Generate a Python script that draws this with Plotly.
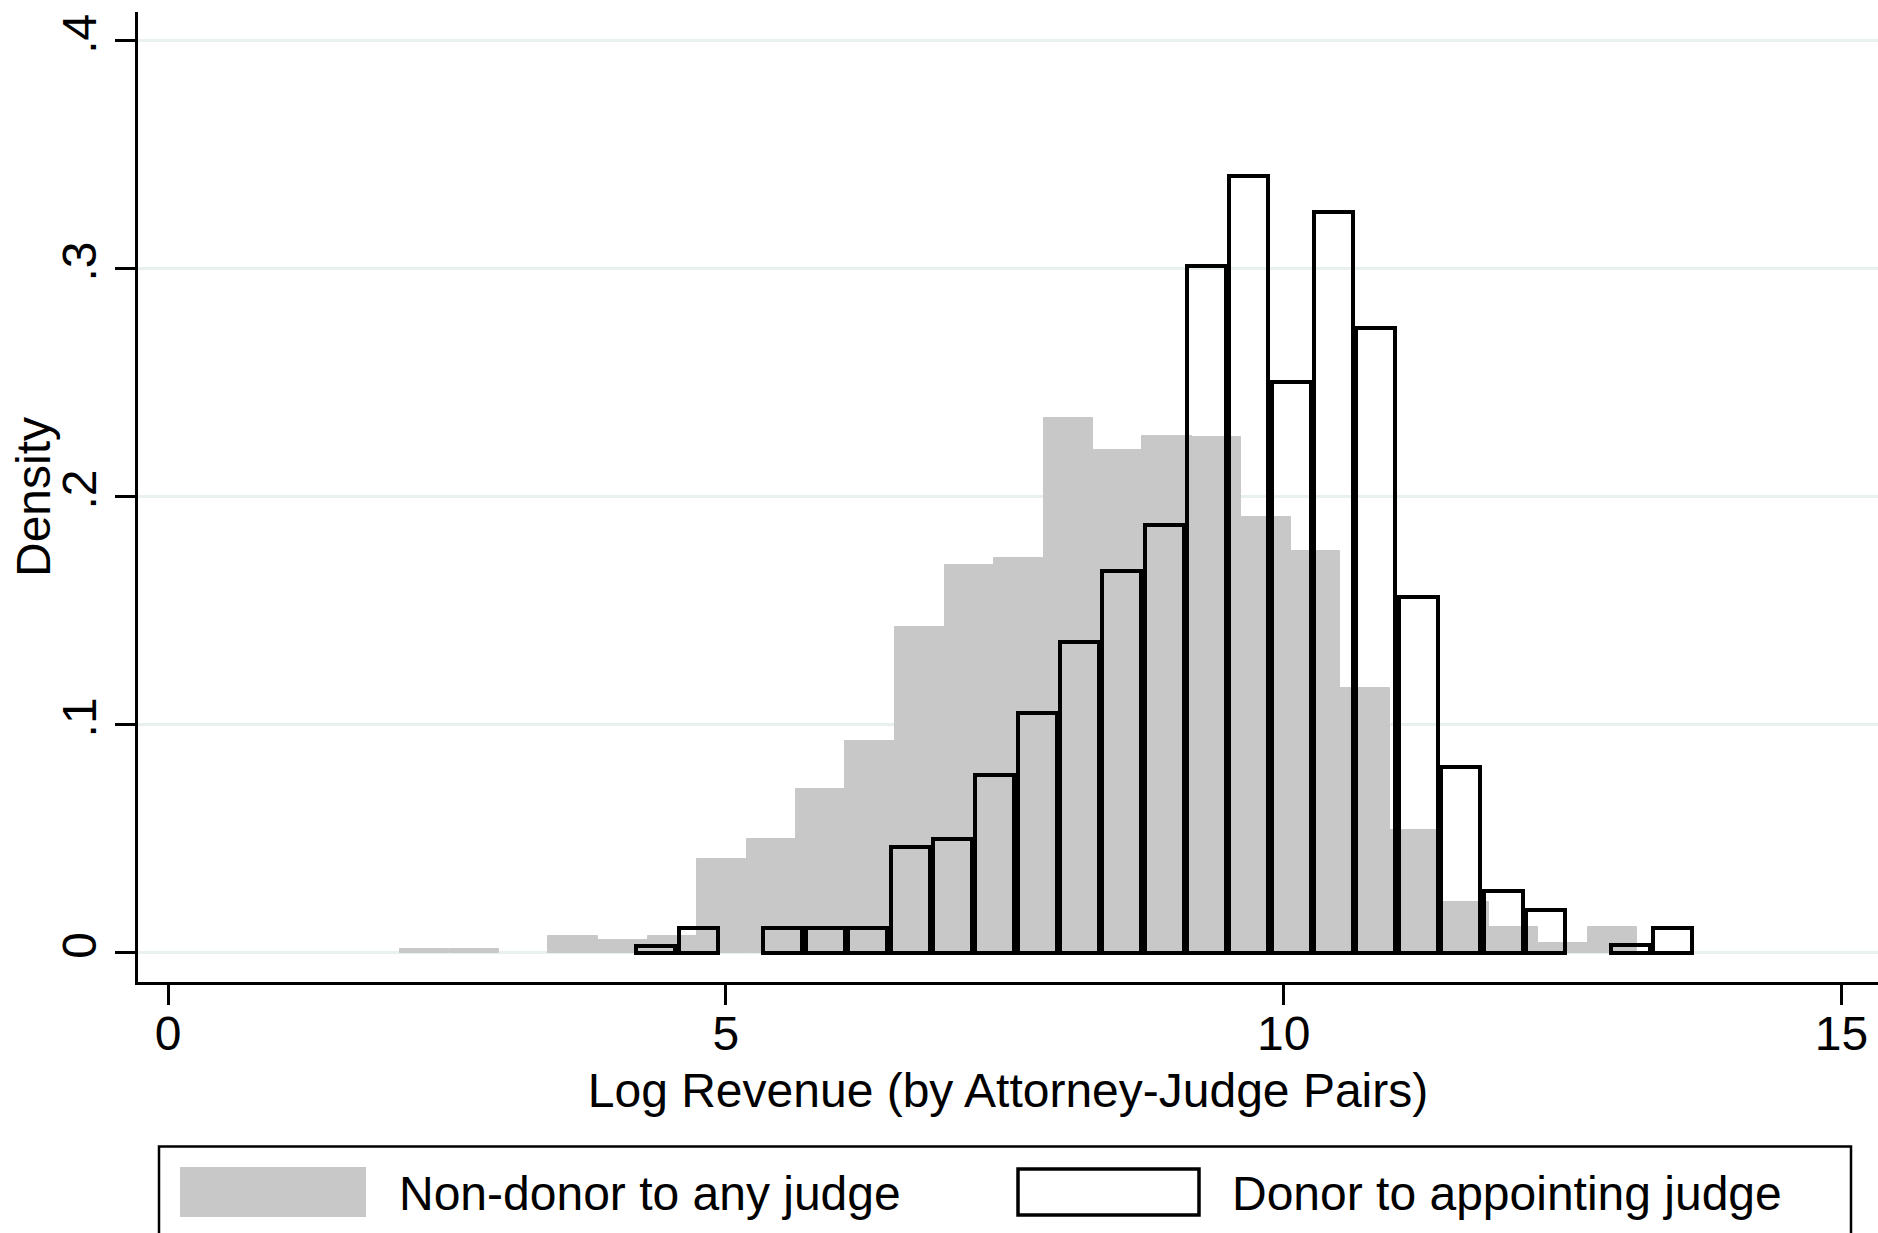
import plotly.graph_objects as go

# Histogram of log revenue: bin midpoints and densities for each group
nondonor_mid = [2.301, 2.745, 3.188, 3.632, 4.076, 4.520, 4.963, 5.407, 5.850,
                6.294, 6.738, 7.182, 7.625, 8.069, 8.513, 8.956, 9.400, 9.844,
                10.287, 10.731, 11.175, 11.618, 12.062, 12.506, 12.949]
nondonor_density = [0.0017, 0.0017, None, 0.0074, 0.0053, 0.0074, 0.0410, 0.0497,
                    0.0716, 0.0928, 0.1427, 0.1699, 0.1731, 0.2345, 0.2205, 0.2266,
                    0.2261, 0.1910, 0.1760, 0.1161, 0.0538, 0.0222, 0.0112, 0.0043,
                    0.0112]
nondonor_binwidth = 0.4437

donor_mid = [4.373, 4.753, 5.132, 5.512, 5.892, 6.271, 6.651, 7.031, 7.410,
             7.790, 8.169, 8.549, 8.929, 9.308, 9.688, 10.068, 10.447, 10.827,
             11.206, 11.586, 11.966, 12.345, 12.725, 13.105, 13.484]
donor_density = [0.0029, 0.0108, None, 0.0108, 0.0108, 0.0108, 0.0461, 0.0499,
                 0.0777, 0.1049, 0.1362, 0.1676, 0.1874, 0.3013, 0.3408, 0.2505,
                 0.3248, 0.2739, 0.1562, 0.0816, 0.0268, 0.0187, None, 0.0031,
                 0.0108]
donor_binwidth = 0.3796

x_ticks = [0, 5, 10, 15]
y_ticks = [0, 0.1, 0.2, 0.3, 0.4]
y_ticktext = ["0", ".1", ".2", ".3", ".4"]

legend_labels = ["Non-donor to any judge", "Donor to appointing judge"]

FONT = "Liberation Sans, Arial, Helvetica, sans-serif"
GRAY = "#c8c8c8"
W, H = 1878, 1233
ML, MR, MT, MB = 138, 0, 12, 251

fig = go.Figure()
fig.add_trace(go.Bar(
    x=nondonor_mid, y=nondonor_density, width=nondonor_binwidth,
    marker=dict(color=GRAY, line=dict(color=GRAY, width=1)),
    name=legend_labels[0], showlegend=False,
))
# outlined bars sit a hair inside their bins so neighbouring edges double up
fig.add_trace(go.Bar(
    x=donor_mid, y=donor_density, width=donor_binwidth - 0.03,
    marker=dict(color="rgba(255,255,255,0)", line=dict(color="black", width=4)),
    name=legend_labels[1], showlegend=False,
))

fig.update_layout(
    template="none",
    width=W, height=H,
    margin=dict(l=ML, r=MR, t=MT, b=MB, pad=0),
    paper_bgcolor="white", plot_bgcolor="white",
    barmode="overlay", bargap=0,
    font=dict(family=FONT, size=48, color="black"),
    showlegend=False,
)

fig.update_xaxes(
    range=[-0.269, 15.327], tickvals=x_ticks, ticktext=[str(t) for t in x_ticks],
    ticks="outside", ticklen=20, tickwidth=2.5, tickcolor="black",
    ticklabelstandoff=-13,
    showline=True, linecolor="black", linewidth=3, mirror=False,
    showgrid=False, zeroline=False, automargin=False,
    tickfont=dict(family=FONT, size=48, color="black"),
    title=dict(text="Log Revenue (by Attorney-Judge Pairs)",
               font=dict(family=FONT, size=48, color="black"), standoff=15),
)
fig.update_yaxes(
    range=[-0.01294, 0.41268], tickvals=y_ticks, ticktext=y_ticktext,
    tickangle=-90,
    ticks="outside", ticklen=20, tickwidth=2.5, tickcolor="black",
    showline=True, linecolor="black", linewidth=3, mirror=False,
    showgrid=True, gridcolor="#e9f0f0", gridwidth=3, zeroline=False,
    automargin=False,
    tickfont=dict(family=FONT, size=48, color="black"),
)

# Page-pixel helpers for items placed outside the plotting area
PW, PH = W - ML - MR, H - MT - MB


def px(x):
    return (x - ML) / PW


def py(y):
    return (H - MB - y) / PH


# y-axis title
fig.add_annotation(
    text="Density", xref="paper", yref="paper", x=px(33), y=0.5,
    xanchor="center", yanchor="middle", textangle=-90, showarrow=False,
    font=dict(family=FONT, size=48, color="black"),
)

# Legend box with its two keys
shapes = [
    dict(type="rect", xref="paper", yref="paper",
         x0=px(159), x1=px(1851), y0=py(1146.5), y1=py(1262),
         line=dict(color="black", width=2.5), fillcolor="white", layer="above"),
    dict(type="rect", xref="paper", yref="paper",
         x0=px(180), x1=px(366), y0=py(1167), y1=py(1217),
         line=dict(width=0), fillcolor=GRAY, layer="above"),
    dict(type="rect", xref="paper", yref="paper",
         x0=px(1018), x1=px(1199), y0=py(1169), y1=py(1215),
         line=dict(color="black", width=3.5), fillcolor="white", layer="above"),
]
fig.update_layout(shapes=shapes)

for label, xl in zip(legend_labels, [397, 1230]):
    fig.add_annotation(
        text=label, xref="paper", yref="paper", x=px(xl), y=py(1193),
        xanchor="left", yanchor="middle", showarrow=False,
        font=dict(family=FONT, size=48, color="black"),
    )

fig.write_html("out.html")
